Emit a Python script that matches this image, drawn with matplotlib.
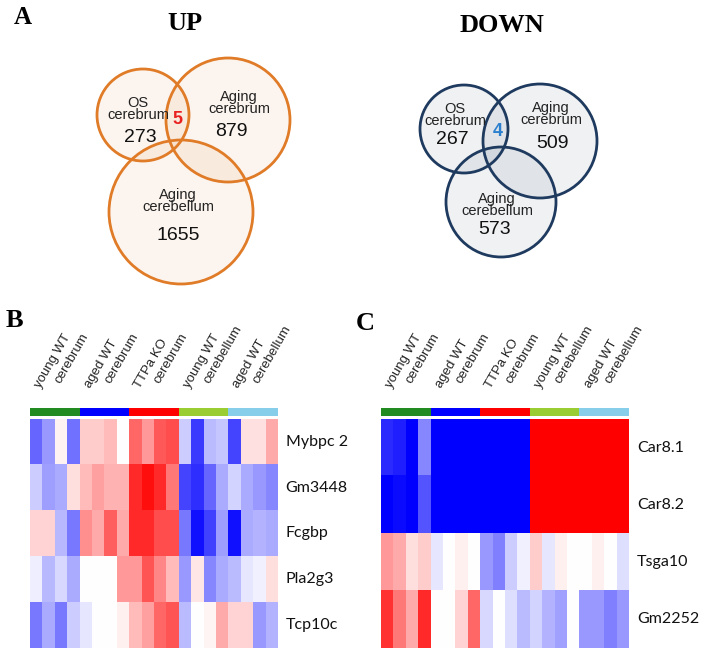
import numpy as np
import matplotlib
matplotlib.use("Agg")
import matplotlib.pyplot as plt
from matplotlib.patches import Circle

# ---------- data ----------
groups = ["young WT\ncerebrum", "aged WT\ncerebrum", "TTPa KO\ncerebrum",
          "young WT\ncerebellum", "aged WT\ncerebellum"]
group_colors = ["#228B22", "#0000FF", "#FF0000", "#9ACD32", "#87CEEB"]

genes_b = ["Mybpc 2", "Gm3448", "Fcgbp", "Pla2g3", "Tcp10c"]
mybpc2 = [-0.6, -0.4, 0.05, -0.55, 0.2, 0.2, 0.27, 0.0, 0.6, 0.4,
          0.65, 0.7, -0.2, -0.77, -0.27, -0.22, -0.73, 0.12, 0.12, 0.33]
gm3448 = [-0.2, -0.38, -0.33, 0.13, 0.27, 0.37, 0.3, 0.3, 0.83, 0.94,
          0.83, 0.53, -0.73, -0.82, -0.6, -0.33, -0.17, -0.33, -0.4, -0.47]
fcgbp = [0.17, 0.17, -0.28, -0.53, 0.44, 0.33, 0.63, 0.33, 0.83, 0.83,
         0.7, 0.7, -0.53, -0.93, -0.75, -0.38, -0.93, -0.33, -0.3, -0.33]
pla2g3 = [-0.07, -0.28, -0.15, -0.33, 0.0, 0.0, 0.0, 0.4, 0.4, 0.67,
          0.47, 0.27, -0.4, 0.1, -0.47, -0.33, -0.27, -0.1, -0.06, 0.13]
tcp10c = [-0.53, -0.33, -0.53, -0.2, -0.1, 0.0, 0.0, 0.06, 0.27, 0.37,
          0.6, 0.67, -0.27, 0.0, 0.04, 0.33, 0.17, 0.17, -0.4, -0.3]

genes_c = ["Car8.1", "Car8.2", "Tsga10", "Gm2252"]
car8_1 = [-0.83, -0.88, -1, -0.47, -1, -1, -1, -1, -1, -1,
          -1, -1, 1, 1, 1, 1, 1, 1, 1, 1]
car8_2 = [-1, -0.96, -1, -0.67, -1, -1, -1, -1, -1, -1,
          -1, -1, 1, 1, 1, 1, 1, 1, 1, 1]
tsga10 = [0.4, 0.33, 0.13, 0.2, -0.1, 0.0, 0.06, 0.0, -0.4, -0.5,
          -0.2, -0.06, 0.2, -0.1, 0.06, 0.0, 0.0, 0.06, 0.0, -0.13]
gm2252 = [0.8, 0.53, 0.33, 0.83, 0.0, 0.0, 0.17, 0.6, -0.15, 0.0,
          -0.13, -0.27, -0.17, -0.3, -0.37, 0.0, -0.4, -0.4, -0.5, -0.4]

venn_sets = ["OS\ncerebrum", "Aging\ncerebrum", "Aging\ncerebellum"]
up_counts = [273, 879, 1655]
up_common = 5
down_counts = [267, 509, 573]
down_common = 4

# ---------- figure ----------
W, H = 706, 652
fig = plt.figure(figsize=(W / 100, H / 100), dpi=100)
ax0 = fig.add_axes([0, 0, 1, 1])
ax0.set_xlim(0, W)
ax0.set_ylim(H, 0)
ax0.axis("off")


def px_axes(x0, y0, x1, y1):
    # axes from pixel box (y measured from top)
    return fig.add_axes([x0 / W, 1 - y1 / H, (x1 - x0) / W, (y1 - y0) / H])


serif = "Liberation Serif"
sans = "Liberation Sans"

# panel letters / titles
ax0.text(14, 24, "A", fontsize=18, fontweight="bold", family=serif)
ax0.text(6, 327, "B", fontsize=19, fontweight="bold", family=serif)
ax0.text(356, 330, "C", fontsize=19, fontweight="bold", family=serif)
ax0.text(185, 30, "UP", fontsize=19, fontweight="bold", family=serif, ha="center")
ax0.text(502, 32, "DOWN", fontsize=19, fontweight="bold", family=serif, ha="center")

# ---------- venn diagrams ----------
up_geom = [(143, 115, 46), (228, 120, 62), (181, 212, 72)]
down_geom = [(464, 129, 44), (540, 141, 57), (501, 202, 55)]


def draw_venn(geom, edge, alpha, counts, common, common_color, name_pos, count_pos, common_pos):
    for (cx, cy, r) in geom:
        ax0.add_patch(Circle((cx, cy), r, facecolor=edge, alpha=alpha, edgecolor="none"))
        ax0.add_patch(Circle((cx, cy), r, facecolor="none", edgecolor=edge, lw=2.0))
    for name, (x, y) in zip(venn_sets, name_pos):
        ax0.text(x, y, name, fontsize=10.5, family=sans, ha="center", va="center",
                 color="#222222", linespacing=0.9)
    for n, (x, y) in zip(counts, count_pos):
        ax0.text(x, y, str(n), fontsize=14, family=sans, ha="center", va="center", color="#111111")
    ax0.text(common_pos[0], common_pos[1], str(common), fontsize=13, family=sans,
             fontweight="bold", ha="center", va="center", color=common_color)


draw_venn(up_geom, "#E07B28", 0.08, up_counts, up_common, "#E8201F",
          [(138, 109), (239, 103), (178, 201)],
          [(140, 137), (231, 132), (178, 235)], (177, 119))
draw_venn(down_geom, "#1F3A5F", 0.07, down_counts, down_common, "#2A7FCF",
          [(455, 115), (551, 114), (497, 205)],
          [(452, 140), (552, 144), (495, 230)], (498, 132))

# ---------- heatmaps ----------
def draw_heatmap(x0, x1, rows, genes):
    data = np.array(rows)
    ncol = data.shape[1]
    bar = px_axes(x0, 408, x1, 416)
    bar.imshow([[matplotlib.colors.to_rgb(c) for c in group_colors for _ in range(ncol // len(group_colors))]],
               aspect="auto", interpolation="nearest")
    bar.axis("off")
    hm = px_axes(x0, 419, x1, 648)
    hm.imshow(data, cmap="bwr", vmin=-1, vmax=1, aspect="auto", interpolation="nearest")
    hm.axis("off")
    row_h = (648 - 419) / len(genes)
    for i, g in enumerate(genes):
        ax0.text(x1 + 8, 419 + row_h * (i + 0.5), g, fontsize=11.5, family="Lato",
                 va="center", ha="left", color="#111111")
    col_w = (x1 - x0) / ncol
    per = ncol // len(groups)
    for k, lab in enumerate(groups):
        gc = x0 + (k * per + per / 2) * col_w
        l1, l2 = lab.split("\n")
        ax0.text(gc - 14, 389, l1, rotation=60, rotation_mode="anchor", ha="left",
                 va="baseline", fontsize=9.5, family=sans, color="#222222")
        ax0.text(gc - 14 + 20, 389 - 5.5, l2, rotation=60, rotation_mode="anchor",
                 ha="left", va="baseline", fontsize=9.5, family=sans, color="#222222")


draw_heatmap(30, 277.5, [mybpc2, gm3448, fcgbp, pla2g3, tcp10c], genes_b)
draw_heatmap(381, 629, [car8_1, car8_2, tsga10, gm2252], genes_c)

fig.savefig("out.png", dpi=100)
